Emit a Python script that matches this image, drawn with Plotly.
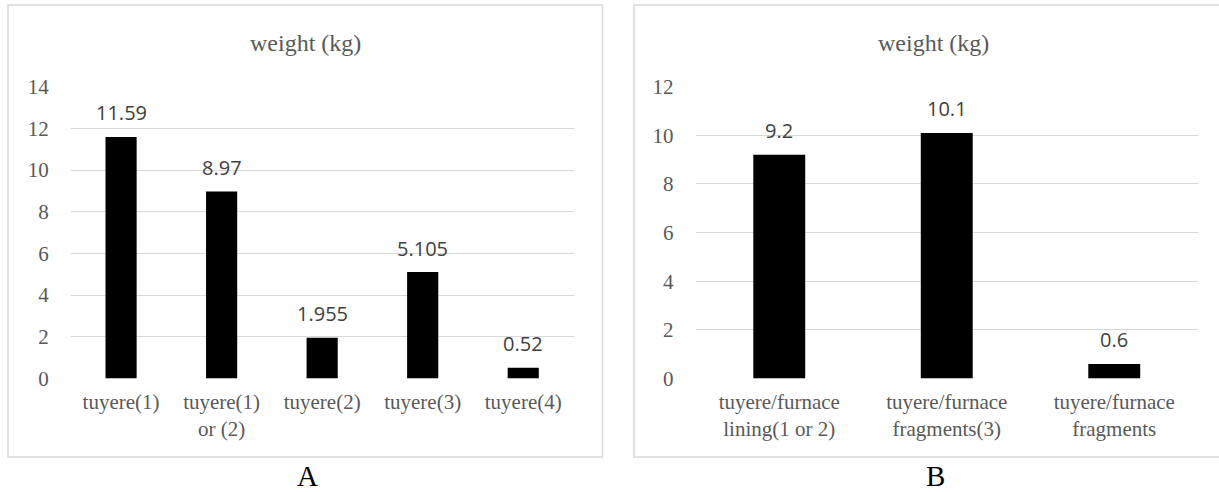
import plotly.graph_objects as go

# Panel A: tuyere weights
cats_a = ["tuyere(1)", "tuyere(1)<br>or (2)", "tuyere(2)", "tuyere(3)", "tuyere(4)"]
vals_a = [11.59, 8.97, 1.955, 5.105, 0.52]
labels_a = ["11.59", "8.97", "1.955", "5.105", "0.52"]
ticks_a = [0, 2, 4, 6, 8, 10, 12, 14]

# Panel B: tuyere/furnace weights
cats_b = ["tuyere/furnace<br>lining(1 or 2)", "tuyere/furnace<br>fragments(3)", "tuyere/furnace<br>fragments"]
vals_b = [9.2, 10.1, 0.6]
labels_b = ["9.2", "10.1", "0.6"]
ticks_b = [0, 2, 4, 6, 8, 10, 12]

W, H = 1219, 492
SERIF = "Liberation Serif"
SANS = "Open Sans"
GRID = "#d9d9d9"
TXT = "#595959"


def px_x(v):
    return v / W


def px_y(v):
    return 1 - v / H


fig = go.Figure()
fig.add_trace(go.Bar(x=cats_a, y=vals_a, marker=dict(color="black", line=dict(width=0)),
                     xaxis="x", yaxis="y", showlegend=False, hoverinfo="skip"))
fig.add_trace(go.Bar(x=cats_b, y=vals_b, marker=dict(color="black", line=dict(width=0)),
                     xaxis="x2", yaxis="y2", showlegend=False, hoverinfo="skip"))

y_dom = [px_y(378.5), px_y(86.7)]

common_x = dict(showgrid=False, showline=False, zeroline=False, ticks="", automargin=False,
                tickfont=dict(family=SERIF, size=21, color=TXT), ticklabelstandoff=8,
                fixedrange=True)
common_y = dict(showgrid=True, gridcolor=GRID, gridwidth=1, showline=False, zeroline=False,
                ticks="", automargin=False,
                tickfont=dict(family=SERIF, size=21, color=TXT), ticklabelstandoff=21,
                fixedrange=True)

fig.update_layout(
    width=W, height=H, margin=dict(l=0, r=0, t=0, b=0, autoexpand=False),
    paper_bgcolor="white", plot_bgcolor="white",
    bargap=0.69, showlegend=False,
    xaxis=dict(domain=[px_x(70.8), px_x(573.5)], anchor="y", **common_x),
    yaxis=dict(domain=y_dom, anchor="x", range=[0, 14], tickvals=ticks_a, **common_y),
    xaxis2=dict(domain=[px_x(695.5), px_x(1198)], anchor="y2", **common_x),
    yaxis2=dict(domain=y_dom, anchor="x2", range=[0, 12], tickvals=ticks_b, **common_y),
)

annotations = []
# value labels above each bar
for xs, ys, ls, xa, ya in [(cats_a, vals_a, labels_a, "x", "y"), (cats_b, vals_b, labels_b, "x2", "y2")]:
    for c, v, t in zip(xs, ys, ls):
        annotations.append(dict(x=c, y=v, xref=xa, yref=ya, text=t, showarrow=False,
                                yanchor="middle", yshift=24,
                                font=dict(family=SANS, size=20, color="#404040")))

# chart titles and panel letters
for cx, letter in [(305, "A"), (933.6, "B")]:
    annotations.append(dict(x=px_x(cx), y=px_y(43), xref="paper", yref="paper", text="weight (kg)",
                            showarrow=False, xanchor="center", yanchor="middle",
                            font=dict(family=SERIF, size=24, color=TXT)))
    annotations.append(dict(x=px_x(cx + 2), y=px_y(476), xref="paper", yref="paper", text=letter,
                            showarrow=False, xanchor="center", yanchor="middle",
                            font=dict(family=SERIF, size=29, color="black")))
fig.update_layout(annotations=annotations)

# chart area frames
shapes = [
    dict(type="rect", xref="paper", yref="paper", x0=px_x(8), x1=px_x(602.5), y0=px_y(457), y1=px_y(5),
         line=dict(color=GRID, width=1.5), fillcolor="rgba(0,0,0,0)", layer="below"),
    dict(type="rect", xref="paper", yref="paper", x0=px_x(634), x1=px_x(1225), y0=px_y(457), y1=px_y(5),
         line=dict(color=GRID, width=1.5), fillcolor="rgba(0,0,0,0)", layer="below"),
]
fig.update_layout(shapes=shapes)

fig.write_html("out.html")
